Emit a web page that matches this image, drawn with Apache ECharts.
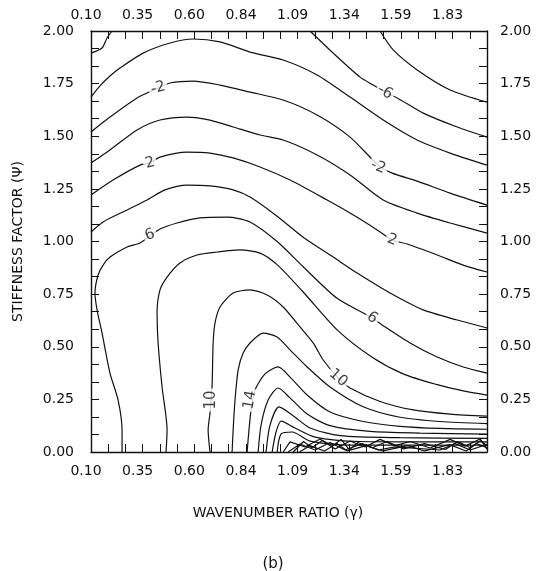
<!DOCTYPE html>
<html>
<head>
<meta charset="utf-8">
<title>Stiffness factor vs wavenumber ratio</title>
<script src="https://cdn.jsdelivr.net/npm/echarts@6/dist/echarts.min.js"></script>
<style>
  html, body { margin: 0; padding: 0; background: #fff; }
  #chart { width: 546px; height: 571px; }
</style>
</head>
<body>
<div id="chart"></div>
<script>
// axis ticks: gamma runs 0.10 .. 2.00 in 23 steps, a label on every third tick
const xTicks = [0.1, 0.1826, 0.2652, 0.3478, 0.4304, 0.513, 0.5957, 0.6783, 0.7609, 0.8435, 0.9261, 1.0087,
  1.0913, 1.1739, 1.2565, 1.3391, 1.4217, 1.5043, 1.587, 1.6696, 1.7522, 1.8348, 1.9174, 2.0]
const xLabelValues = [0.1, 0.3478, 0.5957, 0.8435, 1.0913, 1.3391, 1.587, 1.8348]
const xLabelText = ['0.10', '0.35', '0.60', '0.84', '1.09', '1.34', '1.59', '1.83']
const yTicks = [0, 0.0833, 0.1667, 0.25, 0.3333, 0.4167, 0.5, 0.5833, 0.6667, 0.75, 0.8333, 0.9167, 1,
  1.0833, 1.1667, 1.25, 1.3333, 1.4167, 1.5, 1.5833, 1.6667, 1.75, 1.8333, 1.9167, 2]
const yLabelValues = [0, 0.25, 0.5, 0.75, 1, 1.25, 1.5, 1.75, 2]
const yLabelText = ['0.00', '0.25', '0.50', '0.75', '1.00', '1.25', '1.50', '1.75', '2.00']

// contour lines, [gamma, psi]
const cNeg8 = [[1.487, 2.0], [1.55, 1.91], [1.665, 1.815], [1.823, 1.72], [2.0, 1.662]]
const cNeg6a = [[0.1, 1.895], [0.153, 1.919], [0.177, 1.967], [0.201, 2.0]]
const cNeg6b = [[1.151, 2.0], [1.262, 1.895], [1.391, 1.781], [1.454, 1.743], [1.511, 1.71], [1.569, 1.682],
  [1.694, 1.61], [1.857, 1.544], [2.0, 1.496]]
const cNeg4 = [[0.1, 1.686], [0.143, 1.739], [0.191, 1.786], [0.239, 1.824], [0.35, 1.895], [0.479, 1.943],
  [0.59, 1.962], [0.719, 1.948], [0.863, 1.9], [1.022, 1.862], [1.185, 1.791], [1.343, 1.686], [1.502, 1.577],
  [1.665, 1.482], [1.823, 1.42], [2.0, 1.363]]
const cNeg2 = [[0.1, 1.52], [0.191, 1.591], [0.321, 1.682], [0.422, 1.729], [0.479, 1.753], [0.59, 1.762],
  [0.719, 1.743], [0.863, 1.71], [1.022, 1.672], [1.185, 1.601], [1.343, 1.496], [1.478, 1.363], [1.545, 1.325],
  [1.665, 1.287], [1.823, 1.23], [2.0, 1.173]]
const c0 = [[0.1, 1.373], [0.191, 1.435], [0.321, 1.53], [0.431, 1.577], [0.561, 1.591], [0.671, 1.577],
  [0.782, 1.544], [0.911, 1.506], [1.022, 1.482], [1.185, 1.411], [1.343, 1.316], [1.502, 1.197], [1.665, 1.135],
  [1.823, 1.088], [2.0, 1.04]]
const c2 = [[0.1, 1.221], [0.206, 1.292], [0.335, 1.363], [0.383, 1.373], [0.431, 1.401], [0.561, 1.425],
  [0.671, 1.42], [0.782, 1.397], [0.911, 1.354], [1.055, 1.292], [1.233, 1.197], [1.343, 1.135], [1.473, 1.055],
  [1.545, 1.007], [1.617, 0.988], [1.761, 0.936], [1.886, 0.888], [2.0, 0.855]]
const c4 = [[0.1, 1.045], [0.158, 1.093], [0.273, 1.15], [0.369, 1.197], [0.455, 1.245], [0.561, 1.268],
  [0.671, 1.264], [0.782, 1.245], [0.863, 1.211], [0.993, 1.12], [1.118, 1.02], [1.262, 0.926], [1.377, 0.85],
  [1.535, 0.755], [1.694, 0.675], [1.857, 0.627], [2.0, 0.589]]
const c6 = [[0.249, 0], [0.249, 0.105], [0.23, 0.247], [0.191, 0.375], [0.153, 0.565], [0.129, 0.675],
  [0.119, 0.755], [0.134, 0.841], [0.158, 0.888], [0.191, 0.926], [0.273, 0.974], [0.335, 0.993], [0.431, 1.059],
  [0.513, 1.088], [0.623, 1.112], [0.753, 1.116], [0.863, 1.093], [0.993, 1.0], [1.118, 0.88], [1.281, 0.73],
  [1.449, 0.637], [1.502, 0.6], [1.631, 0.518], [1.761, 0.451], [1.886, 0.404], [2.0, 0.375]]
const c8 = [[0.46, 0], [0.465, 0.105], [0.441, 0.309], [0.422, 0.518], [0.417, 0.66], [0.431, 0.77],
  [0.465, 0.831], [0.527, 0.898], [0.609, 0.936], [0.705, 0.95], [0.815, 0.96], [0.911, 0.945], [0.993, 0.89],
  [1.118, 0.76], [1.281, 0.58], [1.449, 0.45], [1.6, 0.37], [1.761, 0.32], [1.886, 0.29], [2.0, 0.27]]
const c10 = [[0.671, 0], [0.662, 0.105], [0.671, 0.185], [0.681, 0.318], [0.686, 0.518], [0.695, 0.613],
  [0.719, 0.689], [0.782, 0.755], [0.863, 0.77], [0.945, 0.746], [1.022, 0.689], [1.103, 0.594], [1.166, 0.518],
  [1.214, 0.437], [1.286, 0.352], [1.343, 0.304], [1.487, 0.24], [1.646, 0.2], [1.823, 0.18], [2.0, 0.17]]
const c12 = [[0.777, 0], [0.782, 0.105], [0.791, 0.247], [0.806, 0.39], [0.83, 0.47], [0.863, 0.518],
  [0.926, 0.565], [0.993, 0.546], [1.055, 0.485], [1.137, 0.404], [1.247, 0.309], [1.406, 0.215], [1.583, 0.165],
  [1.775, 0.145], [2.0, 0.135]]
const c14 = [[0.849, 0], [0.858, 0.105], [0.868, 0.2], [0.887, 0.295], [0.935, 0.371], [0.998, 0.404],
  [1.055, 0.356], [1.137, 0.271], [1.247, 0.19], [1.406, 0.145], [1.583, 0.122], [1.775, 0.112], [2.0, 0.108]]
const c16 = [[0.902, 0], [0.916, 0.128], [0.95, 0.247], [0.998, 0.304], [1.055, 0.257], [1.137, 0.18],
  [1.247, 0.125], [1.439, 0.098], [1.679, 0.09], [2.0, 0.085]]
const c18 = [[0.94, 0], [0.959, 0.128], [1.002, 0.214], [1.065, 0.176], [1.151, 0.114], [1.295, 0.078],
  [1.583, 0.068], [2.0, 0.065]]
const c20 = [[0.969, 0], [0.988, 0.095], [1.012, 0.147], [1.079, 0.114], [1.175, 0.071], [1.391, 0.05],
  [1.727, 0.048], [2.0, 0.048]]
const c22 = [[0.993, 0], [1.012, 0.086], [1.065, 0.095], [1.151, 0.052], [1.343, 0.033], [2.0, 0.032]]
// the ragged, nearly black band along psi = 0
const c24 = [[1.022, 0], [1.055, 0.048], [1.127, 0.024], [1.199, 0.062], [1.271, 0.014], [1.343, 0.052],
  [1.415, 0.024], [1.487, 0.06], [1.559, 0.03], [1.631, 0.05], [1.727, 0.019], [1.823, 0.06], [1.895, 0.028],
  [1.967, 0.062], [2.0, 0.014]]
const c26 = [[1.046, 0], [1.103, 0.038], [1.175, 0.0095], [1.247, 0.045], [1.319, 0.0095], [1.401, 0.04],
  [1.478, 0.0095], [1.559, 0.024], [1.775, 0.0095], [1.847, 0.04], [1.919, 0.0095], [2.0, 0.036]]
const c28 = [[1.07, 0], [1.12, 0.05], [1.16, 0.02], [1.21, 0.055], [1.26, 0.03], [1.3, 0.06], [1.34, 0.01],
  [1.38, 0.045], [1.45, 0.02], [1.52, 0.05], [1.6, 0.015], [1.7, 0.04], [1.8, 0.012], [1.86, 0.05], [1.92, 0.02],
  [1.97, 0.055], [2.0, 0.03]]
const c30 = [[1.1, 0], [1.15, 0.03], [1.22, 0.005], [1.28, 0.04], [1.33, 0.005], [1.42, 0.03], [1.5, 0.005],
  [1.62, 0.03], [1.7, 0.005], [1.82, 0.035], [1.9, 0.005], [1.95, 0.04], [2.0, 0.02]]

const smoothLines = [cNeg8, cNeg6a, cNeg6b, cNeg4, cNeg2, c0, c2, c4, c6, c8, c10, c12, c14, c16, c18, c20, c22]
const raggedLines = [c24, c26, c28, c30]

// in-line contour labels
const labelText = ['-6', '-2', '-2', '2', '2', '6', '6', '10', '10', '14']
const labelAt = [[1.511, 1.71], [0.422, 1.729], [1.478, 1.354], [0.383, 1.373], [1.545, 1.007],
  [0.383, 1.031], [1.449, 0.637], [0.676, 0.247], [1.286, 0.352], [0.863, 0.247]]
const labelTilt = [-30, 15, -22, 15, -20, 20, -35, 90, -40, 80]

const ink = '#111'
const font = 'DejaVu Sans'

function pick(values, texts) {
  return (v) => {
    for (let i = 0; i < values.length; i++) {
      if (Math.abs(values[i] - v) < 1e-3) return texts[i]
    }
    return ''
  }
}

function xAxisOf(pos) {
  return {
    type: 'value',
    position: pos,
    min: 0.1,
    max: 2.0,
    axisLine: { show: true, onZero: false, lineStyle: { color: ink, width: 1.4 } },
    axisTick: { show: true, inside: true, length: 8, customValues: xTicks, lineStyle: { color: ink, width: 1 } },
    axisLabel: {
      show: true,
      customValues: xLabelValues,
      formatter: pick(xLabelValues, xLabelText),
      color: ink,
      fontFamily: font,
      fontSize: 14,
      margin: pos === 'top' ? 9 : 12,
      padding: [0, 10, 0, 0],
    },
    splitLine: { show: false },
  }
}

function yAxisOf(pos) {
  return {
    type: 'value',
    position: pos,
    min: 0,
    max: 2,
    axisLine: { show: true, onZero: false, lineStyle: { color: ink, width: 1.4 } },
    axisTick: { show: true, inside: true, length: 8, customValues: yTicks, lineStyle: { color: ink, width: 1 } },
    axisLabel: {
      show: true,
      customValues: yLabelValues,
      formatter: pick(yLabelValues, yLabelText),
      color: ink,
      fontFamily: font,
      fontSize: 14,
      margin: pos === 'left' ? 17 : 13,
    },
    splitLine: { show: false },
  }
}

let chart = echarts.init(document.getElementById('chart'))

let bottomX = xAxisOf('bottom')
bottomX.name = 'WAVENUMBER RATIO (γ)'
bottomX.nameLocation = 'middle'
bottomX.nameGap = 54
bottomX.nameTextStyle = { color: ink, fontFamily: font, fontSize: 14, padding: [0, 22, 0, 0] }

let leftY = yAxisOf('left')
leftY.name = 'STIFFNESS FACTOR (Ψ)'
leftY.nameLocation = 'middle'
leftY.nameGap = 66
leftY.nameTextStyle = { color: ink, fontFamily: font, fontSize: 14 }

let series = []
smoothLines.forEach((d) => {
  series.push({
    type: 'line',
    data: d,
    showSymbol: false,
    smooth: 0.25,
    lineStyle: { color: ink, width: 1.2 },
    silent: true,
    z: 2,
  })
})
raggedLines.forEach((d) => {
  series.push({
    type: 'line',
    data: d,
    showSymbol: false,
    smooth: false,
    lineStyle: { color: ink, width: 1.2 },
    silent: true,
    z: 2,
  })
})
series.push({
  type: 'scatter',
  symbolSize: 0,
  z: 5,
  data: labelAt.map((p, i) => ({ value: p, name: labelText[i], label: { rotate: labelTilt[i] } })),
  label: {
    show: true,
    position: 'inside',
    formatter: '{b}',
    color: ink,
    fontFamily: font,
    fontSize: 15,
    backgroundColor: '#fff',
    padding: [0, 2],
  },
})

chart.setOption({
  backgroundColor: '#fff',
  animation: false,
  title: {
    text: '(b)',
    left: 'center',
    top: 552,
    textStyle: { color: ink, fontFamily: font, fontSize: 15, fontWeight: 'normal' },
  },
  grid: { left: 91, right: 59, top: 31, bottom: 119 },
  xAxis: [bottomX, xAxisOf('top')],
  yAxis: [leftY, yAxisOf('right')],
  series: series,
})
</script>
</body>
</html>
